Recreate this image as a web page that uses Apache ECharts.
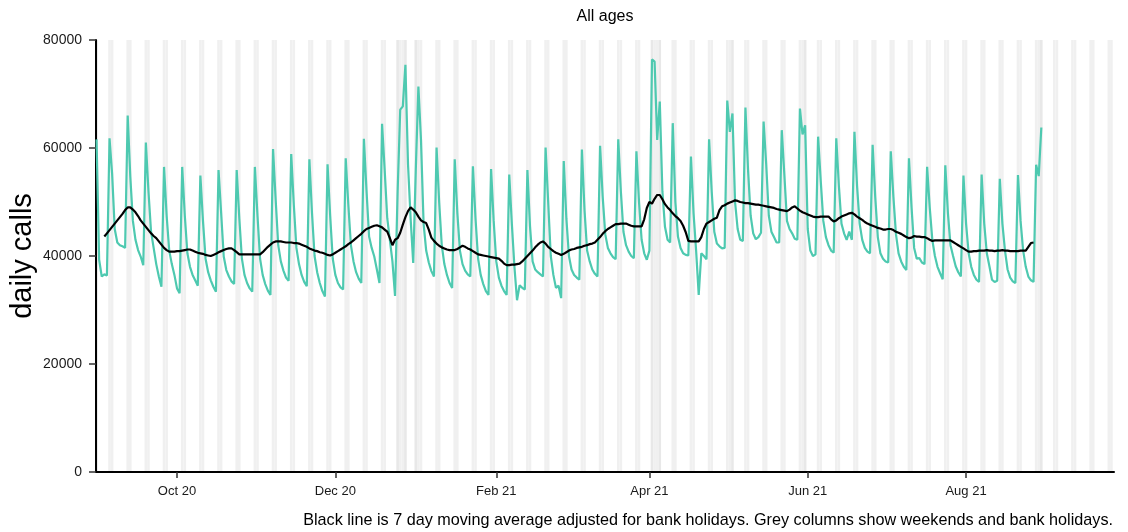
<!DOCTYPE html>
<html>
<head>
<meta charset="utf-8">
<title>All ages</title>
<script src="https://cdn.jsdelivr.net/npm/echarts@6/dist/echarts.min.js"></script>
<style>
  html, body { margin: 0; padding: 0; background: #fff; }
  #main { width: 1128px; height: 532px; }
</style>
</head>
<body>
<div id="main"></div>
<script>
var DAY = 86400000;

// daily calls, first value is Mon 31 Aug 2020 (one value per day)
var callsStart = '2020-08-31';
var calls = [
  61600, 39300, 36200, 36600, 36400,
  61800, 55200, 45000, 42500, 42000, 41800, 41500,
  66000, 54700, 46500, 43000, 41100, 39900, 38300,
  61000, 52000, 44500, 41500, 38500, 36200, 34300,
  56500, 47500, 41000, 38500, 36500, 34000, 33100,
  56500, 47500, 40500, 38000, 36500, 35500, 34500,
  54900, 46500, 39500, 37000, 35500, 34300, 33400,
  55900, 48000, 39900, 37400, 36200, 35300, 34800,
  55900, 47000, 39500, 36500, 35000, 34000, 33400,
  56500, 47500, 39500, 36500, 34800, 33600, 32800,
  59800, 50500, 42000, 39000, 37300, 36000, 35400,
  58900, 49500, 41500, 38500, 36500, 35200, 34400,
  57900, 48000, 40000, 37000, 35000, 33500, 32500,
  57000, 47500, 39500, 36500, 35000, 34200, 33800,
  58100, 49500, 42000, 39000, 37000, 35800, 35000,
  61700, 52200, 43600, 41500, 39900, 37500, 35000,
  64500, 56000, 47000, 43000, 39000, 32600, 52000,
  67100, 67700, 75400, 57000, 47000, 38700, 56000,
  71400, 61500, 46000, 41000, 38800, 37200, 36200,
  60100, 50000, 42000, 38500, 36500, 35000, 34100,
  57900, 48000, 41000, 38500, 37300, 36600, 36200,
  56600, 47000, 39500, 36500, 34800, 33500, 32800,
  56100, 46500, 39000, 36000, 34500, 33500, 32800,
  55100, 46000, 38000, 31800, 34600, 34100, 33800,
  55900, 45500, 39000, 37500, 37000, 36600, 36200,
  60100, 50000, 40000, 36500, 34100, 34500, 32200,
  57600, 47000, 40000, 37500, 36500, 36000, 35600,
  59700, 48500, 41000, 39000, 37500, 36700, 36200,
  60400, 51000, 44000, 41500, 40500, 39800, 39400,
  61600, 52000, 44500, 42000, 40800, 40000, 39600,
  59400, 50000, 43000, 40500, 39300, 41000, 76400,
  76000, 61500, 68600, 52000, 45400, 43000, 42500,
  64600, 50000, 43600, 41500, 40500, 40200, 40100,
  58400, 48000, 41000, 32800, 40500, 40000, 39400,
  61600, 52000, 44500, 42300, 41800, 41400, 41500,
  68800, 63000, 66400, 50000, 45000, 43000, 42800,
  67500, 56000, 47500, 44200, 43100, 43500, 44300,
  64900, 57000, 47500, 44500, 43500, 42500, 42500,
  63300, 55000, 46500, 45000, 44200, 43200, 43000,
  67300, 62500, 64200, 45000, 41000, 40000, 40300,
  62100, 54000, 46500, 43500, 42000, 41000, 40600,
  61800, 53000, 46000, 44200, 43000, 44500, 43000,
  63000, 53000, 46000, 43000, 41500, 40800, 40500,
  60600, 51000, 43500, 40500, 39500, 39000, 38800,
  59400, 51000, 44000, 40500, 39000, 38000, 37400,
  58100, 49000, 41500, 39500, 39600, 38800, 38500,
  56500, 49000, 43000, 40000, 38000, 36800, 35700,
  56800, 48000, 42000, 40000, 38100, 37000, 36200,
  54900, 46000, 40500, 38000, 36500, 35600, 35200,
  55100, 46000, 40500, 38100, 35600, 35200, 35400,
  54300, 46000, 41000, 37500, 36000, 35300, 35000,
  55000, 46500, 41000, 38000, 36200, 35500, 35200,
  56900, 54800, 63800
];

// 7 day moving average (bank holiday adjusted), first value is 3 Sep 2020
var maStart = '2020-09-03';
var movingAvg = [
  43600, 44200, 44800, 45400, 46000, 46600, 47200, 47800, 48500, 49000,
  49000, 48600, 48100, 47400, 46600, 46000, 45400, 44800, 44200, 43700,
  43300, 42700, 42100, 41500, 41100, 40800, 40800, 40800, 40900, 40900,
  41000, 41100, 41200, 41200, 41000, 40800, 40600, 40500, 40400, 40200,
  40100, 40000, 40200, 40400, 40700, 40900, 41100, 41300, 41400, 41400,
  41100, 40700, 40300, 40300, 40300, 40300, 40300, 40300, 40300, 40300,
  40300, 40700, 41200, 41700, 42100, 42500, 42700, 42700, 42700, 42600,
  42500, 42500, 42500, 42400, 42400, 42300, 42100, 41900, 41700, 41400,
  41200, 41000, 40900, 40700, 40600, 40400, 40200, 40100, 40300, 40600,
  40900, 41200, 41500, 41800, 42200, 42500, 42900, 43300, 43700, 44100,
  44600, 45000, 45200, 45400, 45600, 45700, 45500, 45300, 44900, 44500,
  43300, 42000, 43000, 43300, 44300, 45800, 47200, 48300, 49000, 48600,
  48100, 47300, 46600, 46300, 46100, 44900, 43400, 42800, 42300, 41900,
  41600, 41400, 41200, 41100, 41100, 41100, 41300, 41600, 41900, 41700,
  41400, 41200, 40900, 40600, 40300, 40200, 40100, 40000, 39900, 39800,
  39700, 39600, 39500, 39100, 38600, 38300, 38300, 38400, 38400, 38500,
  38600, 39000, 39500, 40000, 40500, 41000, 41600, 42100, 42500, 42700,
  42300, 41700, 41300, 40900, 40600, 40400, 40200, 40400, 40700, 41000,
  41200, 41300, 41500, 41600, 41700, 41900, 42000, 42200, 42300, 42500,
  43000, 43500, 44100, 44600, 45000, 45300, 45600, 45900, 45900, 46000,
  46000, 46000, 45800, 45600, 45500, 45500, 45500, 45500, 46800, 48900,
  50000, 49700, 50600, 51300, 51300, 50500, 49600, 49000, 48500, 47900,
  47400, 47000, 46500, 45600, 44400, 42800, 42700, 42700, 42700, 42700,
  43500, 45000, 46000, 46300, 46600, 46900, 47100, 48500, 49200, 49400,
  49700, 49900, 50100, 50300, 50200, 50000, 49900, 49800, 49800, 49700,
  49600, 49500, 49500, 49400, 49300, 49200, 49100, 49000, 48900, 48700,
  48600, 48500, 48400, 48300, 48600, 49000, 49200, 48800, 48400, 48100,
  47900, 47700, 47500, 47300, 47200, 47200, 47300, 47300, 47300, 47300,
  46800, 46400, 46600, 47000, 47300, 47500, 47700, 47900, 48000, 47700,
  47300, 47000, 46700, 46300, 46000, 45800, 45600, 45400, 45200, 45100,
  44900, 44900, 45000, 45000, 44800, 44500, 44300, 44100, 43800, 43500,
  43300, 43400, 43700, 43600, 43600, 43500, 43500, 43300, 43000, 42800,
  42900, 42900, 42900, 42900, 42900, 42900, 42900, 42600, 42300, 42000,
  41700, 41400, 41100, 40800, 40800, 40900, 40900, 41000, 41000, 41000,
  41100, 41000, 41000, 40900, 41000, 41000, 41100, 41000, 41000, 40900,
  40900, 40900, 40900, 41000, 41000, 41000, 41700, 42400, 42500
];

var bankHolidays = ['2020-08-31', '2020-12-25', '2020-12-28', '2021-01-01',
  '2021-04-02', '2021-04-05', '2021-05-03', '2021-05-31', '2021-08-30'];
var greyFrom = '2020-08-31';
var greyTo = '2021-09-26';

var tickDates = ['2020-10-01', '2020-12-01', '2021-02-01', '2021-04-01', '2021-06-01', '2021-08-01'];
var tickLabels = ['Oct 20', 'Dec 20', 'Feb 21', 'Apr 21', 'Jun 21', 'Aug 21'];

var FONT = '"Liberation Sans", Arial, sans-serif';

var t0 = Date.parse(callsStart);
var callsData = calls.map(function (v, i) { return [t0 + i * DAY, v]; });
var m0 = Date.parse(maStart);
var maData = movingAvg.map(function (v, i) { return [m0 + i * DAY, v]; });

// grey columns: weekends + bank holidays
var bhTimes = bankHolidays.map(function (d) { return Date.parse(d); });
var greyDays = [];
for (var t = Date.parse(greyFrom); t <= Date.parse(greyTo); t += DAY) {
  var wd = new Date(t).getUTCDay();
  var bh = bhTimes.indexOf(t) >= 0;
  if (wd === 0 || wd === 6 || bh) greyDays.push([t, bh ? 1 : 0]);
}
var tickTimes = tickDates.map(function (d) { return Date.parse(d); });

var myChart = echarts.init(document.getElementById('main'));

var option = {
  animation: false,
  backgroundColor: '#ffffff',
  grid: { left: 96, right: 14, top: 40, bottom: 60 },
  xAxis: {
    type: 'value',
    min: t0 - 0.21 * DAY,
    max: Date.parse('2021-09-27'),
    axisLine: { show: true, lineStyle: { color: '#000', width: 2 } },
    axisTick: { show: true, length: 6, lineStyle: { color: '#333', width: 1.5 }, customValues: tickTimes },
    axisLabel: {
      customValues: tickTimes,
      color: '#1a1a1a',
      fontFamily: FONT,
      fontSize: 13,
      margin: 13,
      formatter: function (v) {
        var k = tickTimes.indexOf(Number(v));
        return k >= 0 ? tickLabels[k] : '';
      }
    },
    splitLine: { show: false }
  },
  yAxis: {
    type: 'value',
    min: 0,
    max: 80000,
    interval: 20000,
    axisLine: { show: true, lineStyle: { color: '#000', width: 2 } },
    axisTick: { show: true, length: 7, lineStyle: { color: '#333', width: 1.5 } },
    axisLabel: {
      color: '#1a1a1a', fontFamily: FONT, fontSize: 14, margin: 14,
      formatter: function (v) { return String(v); }
    },
    splitLine: { show: false }
  },
  graphic: [
    { type: 'text', x: 605, y: 17, style: { text: 'All ages', font: '16px ' + FONT, fill: '#000', textAlign: 'center', textVerticalAlign: 'middle' } },
    { type: 'text', x: 23, y: 256, rotation: Math.PI / 2, style: { text: 'daily calls', font: '29px ' + FONT, fill: '#000', textAlign: 'center', textVerticalAlign: 'middle' } },
    { type: 'text', x: 1113, y: 521, style: { text: 'Black line is 7 day moving average adjusted for bank holidays. Grey columns show weekends and bank holidays.', font: '16.2px ' + FONT, fill: '#000', textAlign: 'right', textVerticalAlign: 'middle' } }
  ],
  series: [
    {
      // weekend / bank holiday columns
      type: 'custom',
      silent: true,
      z: 0,
      clip: true,
      encode: { x: 0, y: 1 },
      renderItem: function (params, api) {
        var a = api.coord([api.value(0) - DAY / 2, 80000]);
        var b = api.coord([api.value(0) + DAY / 2, 0]);
        return {
          type: 'rect',
          shape: { x: a[0], y: a[1], width: b[0] - a[0], height: b[1] - a[1] },
          style: { fill: api.value(1) ? '#e8e8e8' : '#f0f0f0' }
        };
      },
      data: greyDays
    },
    {
      name: 'daily calls',
      type: 'line',
      z: 2,
      showSymbol: false,
      lineStyle: { color: '#4ec9b0', width: 2.2 },
      itemStyle: { color: '#4ec9b0' },
      data: callsData
    },
    {
      name: '7 day moving average',
      type: 'line',
      z: 3,
      showSymbol: false,
      lineStyle: { color: '#000', width: 2.2 },
      itemStyle: { color: '#000' },
      data: maData
    }
  ]
};

myChart.setOption(option);
</script>
</body>
</html>
